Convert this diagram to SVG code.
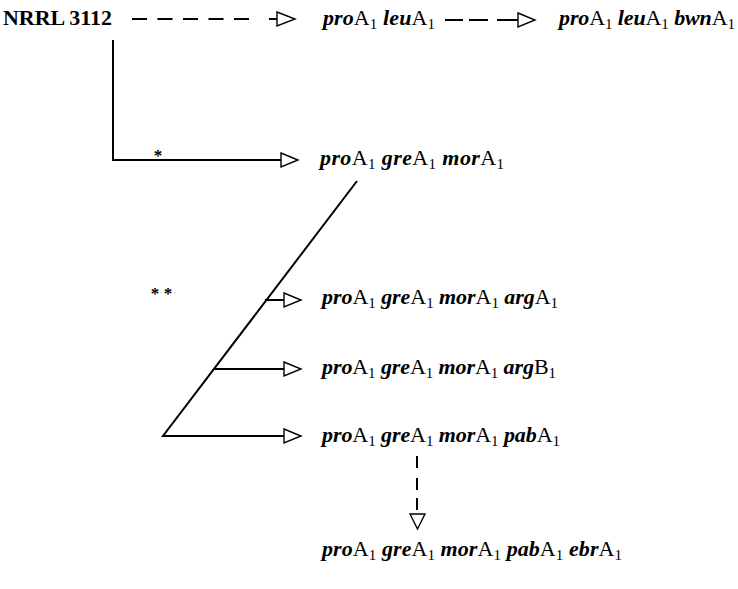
<svg xmlns="http://www.w3.org/2000/svg" width="738" height="589" viewBox="0 0 738 589">
<style>
text{font-family:"Liberation Serif","Times New Roman",serif;font-size:22px;fill:#000}
.i{font-style:italic;font-weight:bold}
.s{font-size:15px}
.b{font-weight:bold}
.ln{fill:none;stroke:#000;stroke-width:2}
.head{fill:#fff;stroke:#000;stroke-width:1.4;stroke-linejoin:miter}
.st{font-size:17px;font-weight:bold}
</style>
<rect width="738" height="589" fill="#fff"/>
<g id="connectors">
<path class="ln" stroke-dasharray="15 10.5" d="M132,19H250"/>
<path class="ln" d="M269,19H277"/>
<polygon class="head" points="277,12 295,19 277,26"/>
<path class="ln" d="M445,20H463M469,20H488M497,20H518"/>
<polygon class="head" points="518,13 535,20 518,27"/>
<path class="ln" d="M113,40V160H281"/>
<polygon class="head" points="281,153 298,160 281,167"/>
<path class="ln" d="M357,181L163,436H284"/>
<path class="ln" d="M265,300H284M213,369H284"/>
<polygon class="head" points="284,293 301,300 284,307"/>
<polygon class="head" points="284,362 301,369 284,376"/>
<polygon class="head" points="284,429 301,436 284,443"/>
<path class="ln" d="M417,456V468M417,478V490M417,498V510"/>
<polygon class="head" points="410,514 425,514 417.5,529"/>
<text class="st" x="158" y="161" text-anchor="middle">*</text>
<text class="st" x="155 168" y="299" text-anchor="middle">**</text>
</g>
<g id="n-nrrl"><text class="b" x="3" y="25" textLength="109" lengthAdjust="spacingAndGlyphs">NRRL 3112</text></g>
<g id="n-leu"><text x="323" y="25" textLength="112" lengthAdjust="spacing"><tspan class="i">pro</tspan>A<tspan class="s" dy="4">1</tspan><tspan dy="-4"> </tspan><tspan class="i">leu</tspan>A<tspan class="s" dy="4">1</tspan></text></g>
<g id="n-bwn"><text x="559" y="25" textLength="176" lengthAdjust="spacing"><tspan class="i">pro</tspan>A<tspan class="s" dy="4">1</tspan><tspan dy="-4"> </tspan><tspan class="i">leu</tspan>A<tspan class="s" dy="4">1</tspan><tspan dy="-4"> </tspan><tspan class="i">bwn</tspan>A<tspan class="s" dy="4">1</tspan></text></g>
<g id="n-mor"><text x="320" y="165" textLength="184" lengthAdjust="spacing"><tspan class="i">pro</tspan>A<tspan class="s" dy="4">1</tspan><tspan dy="-4"> </tspan><tspan class="i">gre</tspan>A<tspan class="s" dy="4">1</tspan><tspan dy="-4"> </tspan><tspan class="i">mor</tspan>A<tspan class="s" dy="4">1</tspan></text></g>
<g id="n-argA"><text x="322" y="304" textLength="236" lengthAdjust="spacing"><tspan class="i">pro</tspan>A<tspan class="s" dy="4">1</tspan><tspan dy="-4"> </tspan><tspan class="i">gre</tspan>A<tspan class="s" dy="4">1</tspan><tspan dy="-4"> </tspan><tspan class="i">mor</tspan>A<tspan class="s" dy="4">1</tspan><tspan dy="-4"> </tspan><tspan class="i">arg</tspan>A<tspan class="s" dy="4">1</tspan></text></g>
<g id="n-argB"><text x="322" y="374" textLength="234" lengthAdjust="spacing"><tspan class="i">pro</tspan>A<tspan class="s" dy="4">1</tspan><tspan dy="-4"> </tspan><tspan class="i">gre</tspan>A<tspan class="s" dy="4">1</tspan><tspan dy="-4"> </tspan><tspan class="i">mor</tspan>A<tspan class="s" dy="4">1</tspan><tspan dy="-4"> </tspan><tspan class="i">arg</tspan>B<tspan class="s" dy="4">1</tspan></text></g>
<g id="n-pab"><text x="322" y="442" textLength="238" lengthAdjust="spacing"><tspan class="i">pro</tspan>A<tspan class="s" dy="4">1</tspan><tspan dy="-4"> </tspan><tspan class="i">gre</tspan>A<tspan class="s" dy="4">1</tspan><tspan dy="-4"> </tspan><tspan class="i">mor</tspan>A<tspan class="s" dy="4">1</tspan><tspan dy="-4"> </tspan><tspan class="i">pab</tspan>A<tspan class="s" dy="4">1</tspan></text></g>
<g id="n-ebr"><text x="322" y="556" textLength="300" lengthAdjust="spacing"><tspan class="i">pro</tspan>A<tspan class="s" dy="4">1</tspan><tspan dy="-4"> </tspan><tspan class="i">gre</tspan>A<tspan class="s" dy="4">1</tspan><tspan dy="-4"> </tspan><tspan class="i">mor</tspan>A<tspan class="s" dy="4">1</tspan><tspan dy="-4"> </tspan><tspan class="i">pab</tspan>A<tspan class="s" dy="4">1</tspan><tspan dy="-4"> </tspan><tspan class="i">ebr</tspan>A<tspan class="s" dy="4">1</tspan></text></g>
</svg>
